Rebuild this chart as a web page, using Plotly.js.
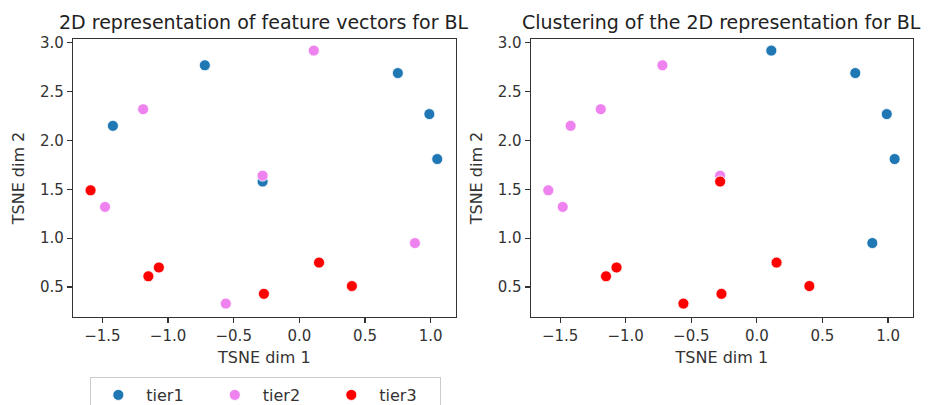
<!DOCTYPE html>
<html>
<head>
<meta charset="utf-8">
<script src="https://cdn.plot.ly/plotly-3.0.1.min.js"></script>
<style>html,body{margin:0;padding:0;background:#fff;}#chart{width:936px;height:405px;}</style>
</head>
<body>
<div id="chart"></div>
<script>
// TSNE coordinates of the 18 feature vectors
const tsneDim1 = [-1.42, -0.72, 0.75, 0.99, 1.05, -0.28, -1.19, 0.11, -0.28, -1.48, 0.88, -0.56, -1.59, -1.15, -1.07, -0.27, 0.15, 0.40];
const tsneDim2 = [2.15, 2.77, 2.69, 2.27, 1.81, 1.58, 2.32, 2.92, 1.64, 1.32, 0.95, 0.33, 1.49, 0.61, 0.70, 0.43, 0.75, 0.51];
// true tier of each point (left panel)
const tierOf = ['tier1','tier1','tier1','tier1','tier1','tier1','tier2','tier2','tier2','tier2','tier2','tier2','tier3','tier3','tier3','tier3','tier3','tier3'];
// cluster assigned to each point (right panel)
const clusterOf = ['tier2','tier2','tier1','tier1','tier1','tier3','tier2','tier1','tier2','tier2','tier1','tier3','tier2','tier3','tier3','tier3','tier3','tier3'];
const groupNames = ['tier1', 'tier2', 'tier3'];
const groupColors = ['#1f77b4', '#ee82ee', '#ff0000'];
const xTicks = [-1.5, -1.0, -0.5, 0.0, 0.5, 1.0];
const yTicks = [0.5, 1.0, 1.5, 2.0, 2.5, 3.0];
const titles = ['2D representation of feature vectors for BL', 'Clustering of the 2D representation for BL'];

const traces = [];
function addTraces(labels, xa, ya, showleg) {
  groupNames.forEach((g, gi) => {
    const xs = [], ys = [];
    labels.forEach((l, i) => { if (l === g) { xs.push(tsneDim1[i]); ys.push(tsneDim2[i]); } });
    traces.push({
      type: 'scatter', mode: 'markers', x: xs, y: ys, xaxis: xa, yaxis: ya,
      name: g, showlegend: showleg, legendgroup: g,
      marker: {color: groupColors[gi], size: 11, line: {color: '#ffffff', width: 0.8}}
    });
  });
}
addTraces(tierOf, 'x', 'y', true);
addTraces(clusterOf, 'x2', 'y2', false);

const tickFont = {family: 'DejaVu Sans', size: 15, color: '#333'};
const labFont = {family: 'DejaVu Sans', size: 16, color: '#333'};
function xaxis(domain, anchor) {
  return {domain: domain, anchor: anchor, range: [-1.724, 1.19], tickvals: xTicks, tickformat: '.1f',
    showgrid: false, zeroline: false, showline: true, mirror: true, linecolor: '#333', linewidth: 1.2,
    ticks: 'outside', ticklen: 5, tickwidth: 1.2, tickcolor: '#333', tickfont: tickFont,
    title: {text: 'TSNE dim 1', font: labFont, standoff: 7}};
}
function yaxis(anchor) {
  return {domain: [0, 1], anchor: anchor, range: [0.193, 3.039], tickvals: yTicks, tickformat: '.1f',
    showgrid: false, zeroline: false, showline: true, mirror: true, linecolor: '#333', linewidth: 1.2,
    ticks: 'outside', ticklen: 5, tickwidth: 1.2, tickcolor: '#333', tickfont: tickFont,
    title: {text: 'TSNE dim 2', font: labFont, standoff: 11}};
}

const layout = {
  width: 936, height: 405,
  margin: {l: 73, r: 23, t: 39, b: 88, autoexpand: false},
  paper_bgcolor: '#fff', plot_bgcolor: '#fff',
  xaxis: xaxis([0, 0.4555], 'y'),
  yaxis: yaxis('x'),
  xaxis2: xaxis([0.5449, 1], 'y2'),
  yaxis2: yaxis('x2'),
  showlegend: true,
  legend: {orientation: 'h', x: 0.0206, xanchor: 'left', y: -0.2158, yanchor: 'top',
    bordercolor: '#cccccc', borderwidth: 1, font: {family: 'DejaVu Sans', size: 16, color: '#333'},
    itemwidth: 46, entrywidth: 55.5, entrywidthmode: 'pixels'},
  annotations: titles.map((t, i) => ({
    text: t, xref: i === 0 ? 'x domain' : 'x2 domain', yref: 'paper', x: 0.5, y: 1.061,
    xanchor: 'center', yanchor: 'middle', showarrow: false,
    font: {family: 'DejaVu Sans', size: 19, color: '#222'}
  }))
};

Plotly.newPlot('chart', traces, layout, {displayModeBar: false, staticPlot: true});
</script>
</body>
</html>
